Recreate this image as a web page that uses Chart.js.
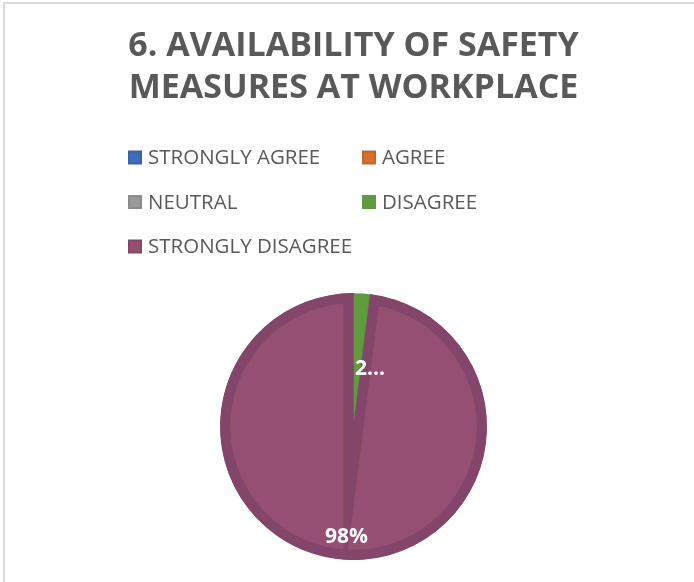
<!DOCTYPE html>
<html>
<head>
<meta charset="utf-8">
<script src="https://cdn.jsdelivr.net/npm/chart.js@4.4.1/dist/chart.umd.min.js"></script>
<style>
  html, body { margin: 0; padding: 0; background: #fff; }
  #myChart { position: absolute; left: 0; top: 0; }
  .frame {
    position: absolute; left: 3px; top: 2px; width: 691px; height: 580px;
    border-top: 2px solid #d9d9d9; border-left: 2px solid #d9d9d9;
    box-sizing: border-box; pointer-events: none;
  }
</style>
</head>
<body>
<canvas id="myChart" width="694" height="582"></canvas>
<div class="frame"></div>
<script>
// survey answers, share of respondents in %
const categories = ['STRONGLY AGREE', 'AGREE', 'NEUTRAL', 'DISAGREE', 'STRONGLY DISAGREE'];
const shares = [0, 0, 0, 2, 98];
const titleLines = ['6. AVAILABILITY OF SAFETY', 'MEASURES AT WORKPLACE'];

const sliceColors = ['#3f6cb8', '#d6712d', '#999999', '#5f9b3d', '#954f72'];
const edgeColors = ['#3a62a8', '#c46629', '#8c8c8c', '#5f9b3d', '#84456a'];
const FONT = '"Open Sans", "DejaVu Sans", sans-serif';

// canvas default miter limit turns the sharp centre join into a bevel
const sharpJoins = {
    id: 'sharpJoins',
    beforeDatasetsDraw(chart) {
        chart.ctx.save();
        chart.ctx.miterLimit = 40;
    },
    afterDatasetsDraw(chart) {
        chart.ctx.restore();
    }
};

// percentage labels inside the slices
const sliceLabels = {
    id: 'sliceLabels',
    afterDatasetsDraw(chart) {
        const ctx = chart.ctx;
        const meta = chart.getDatasetMeta(0);
        ctx.save();
        ctx.fillStyle = '#ffffff';
        ctx.font = 'bold 21px ' + FONT;
        ctx.textBaseline = 'middle';
        meta.data.forEach((arc, i) => {
            const v = shares[i];
            if (!v) return;
            const p = arc.getProps(['x', 'y', 'startAngle', 'endAngle', 'outerRadius'], true);
            const mid = (p.startAngle + p.endAngle) / 2;
            const narrow = v < 5;
            const r = p.outerRadius * (narrow ? 0.43 : 0.83);
            const px = p.x + Math.cos(mid) * r;
            const py = p.y + Math.sin(mid) * r;
            let text = v + '%';
            if (narrow) text = text.slice(0, 1) + '\u2026'; // no room, cut short
            ctx.textAlign = narrow ? 'left' : 'center';
            ctx.fillText(text, narrow ? px - 2 : px, py);
        });
        ctx.restore();
    }
};

// two-column legend under the title
const gridLegend = {
    id: 'gridLegend',
    afterDraw(chart) {
        const ctx = chart.ctx;
        ctx.save();
        ctx.font = '20.5px ' + FONT;
        ctx.textBaseline = 'middle';
        ctx.textAlign = 'left';
        chart.data.labels.forEach((label, i) => {
            const col = i % 2;
            const row = Math.floor(i / 2);
            const bx = 128 + col * 234;
            const cy = 157.5 + row * 44.5;
            ctx.fillStyle = edgeColors[i];
            ctx.fillRect(bx, cy - 7, 14, 14);
            ctx.fillStyle = sliceColors[i];
            ctx.fillRect(bx + 2, cy - 5, 10, 10);
            ctx.fillStyle = '#595959';
            ctx.fillText(label, bx + 20, cy + 1);
        });
        ctx.restore();
    }
};

new Chart(document.getElementById('myChart').getContext('2d'), {
    type: 'pie',
    data: {
        labels: categories,
        datasets: [{
            data: shares,
            backgroundColor: sliceColors,
            borderColor: edgeColors,
            borderWidth: [10, 10, 10, 0, 10],
            borderAlign: 'inner',
            borderJoinStyle: 'miter'
        }]
    },
    options: {
        responsive: false,
        animation: false,
        layout: { padding: { left: 13, right: 0, top: 0, bottom: 22 } },
        plugins: {
            legend: { display: false },
            tooltip: { enabled: false },
            title: {
                display: true,
                text: titleLines,
                color: '#595959',
                font: { family: FONT, size: 34, weight: 'bold', lineHeight: 42 / 34 },
                padding: { top: 25, bottom: 184 }
            }
        }
    },
    plugins: [sharpJoins, sliceLabels, gridLegend]
});
</script>
</body>
</html>
